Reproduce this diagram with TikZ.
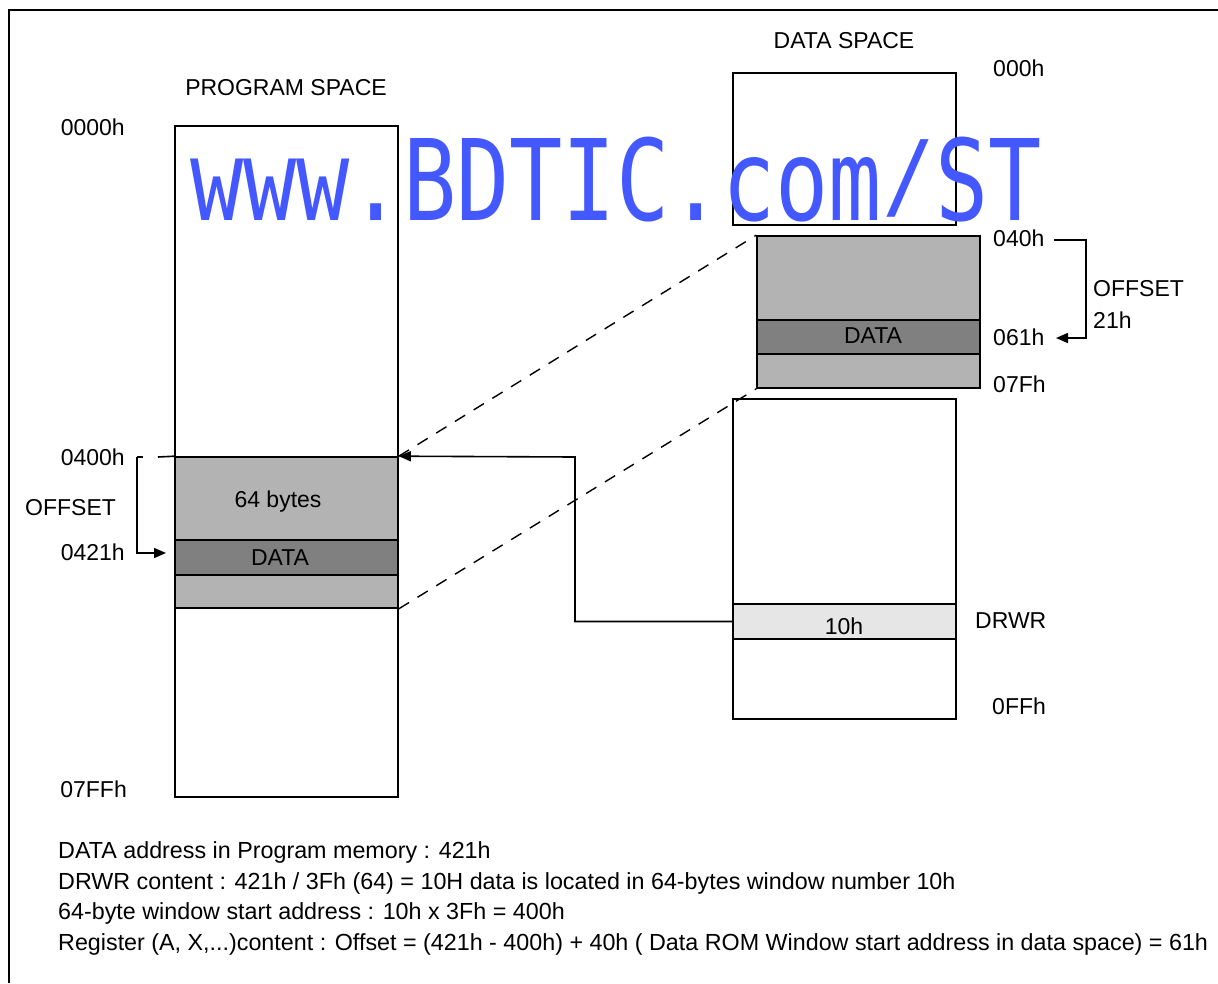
\documentclass[tikz,border=0pt]{standalone}
\usepackage{fontspec}
\setmainfont{Liberation Sans}
\newfontfamily\wmfamily{DejaVu Sans Mono}
\usetikzlibrary{arrows.meta}

\definecolor{winGray}{RGB}{179,179,179}
\definecolor{dataGray}{RGB}{128,128,128}
\definecolor{regGray}{RGB}{230,230,230}
\definecolor{wmBlue}{RGB}{68,88,255}
\newcommand{\lblfont}{\fontsize{23}{28}\selectfont}
\newcommand{\notefont}{\fontsize{23.3}{28}\selectfont}

\begin{document}
\begin{tikzpicture}[
            x=1pt, y=-1pt,
            every node/.style={font=\lblfont, inner sep=0pt},
            mem box/.style={rectangle, draw, line width=1.6pt, minimum width=223pt},
            win box/.style={mem box, fill=winGray},
            data box/.style={mem box, fill=dataGray, minimum height=35pt},
            reg box/.style={mem box, fill=regGray, minimum height=35pt},
            addr left/.style={anchor=east},
            addr right/.style={anchor=west},
            note/.style={anchor=west, font=\notefont},
            link/.style={line width=1.6pt},
            arrow/.style={link, -{Triangle[length=12pt, width=10pt]}},
            dash link/.style={line width=1.4pt, dash pattern=on 12pt off 10pt},
            watermark/.style={font=\wmfamily\fontsize{112.5}{112.5}\selectfont, text=wmBlue, anchor=base west}
    ]
        \useasboundingbox (0,0) rectangle (1218,983);

        % Frame
        \draw[line width=2pt] (9,983) -- (9,10) -- (1218,10);

        % Program space
        \node (prog_title) at (286,88) {PROGRAM SPACE};
        \node[mem box, minimum height=671pt] (prog) at (286.5,461.5) {};
        \node[win box, minimum height=151pt] (pwin) at (286.5,532.5) {};
        \node[data box] (pdata) at (286.5,557.5) {};
        \node (pdata_lbl) at (280,558) {DATA};
        \node[anchor=base] (pbytes) at (278,507) {64 bytes};

        \node[addr left] (a0000) at (125,127) {0000h};
        \node[addr left] (a0400) at (125,457) {0400h};
        \node[anchor=west] (poffset) at (25,508) {OFFSET};
        \node[addr left] (a0421) at (125,552) {0421h};
        \node[addr left] (a07ff) at (127,789) {07FFh};

        % Data space
        \node (data_title) at (844,41) {DATA SPACE};
        \node[mem box, minimum height=152pt] (dtop) at (844.5,149) {};
        \node[win box, minimum height=152pt] (dwin) at (868.5,312) {};
        \node[data box, minimum height=34pt] (ddata) at (868.5,337) {};
        \node (ddata_lbl) at (873,336) {DATA};
        \node[mem box, minimum height=320pt] (dlow) at (844.5,559) {};
        \node[reg box] (drwr) at (844.5,621.5) {};
        \node (drwr_val) at (844,626) {10h};

        \node[addr right] (a000) at (993,68) {000h};
        \node[addr right] (a040) at (993,238) {040h};
        \node[addr right] (a061) at (993,337) {061h};
        \node[addr right] (a07f) at (993,384) {07Fh};
        \node[addr right] (drwr_lbl) at (975,621) {DRWR};
        \node[addr right] (a0ff) at (992,706) {0FFh};
        \node[addr right] (doffset) at (1093,289) {OFFSET};
        \node[addr right] (doff_val) at (1093,320) {21h};

        % Offset brackets
        \coordinate (ptick) at (143,457);
        \coordinate (pbend) at (137,457);
        \coordinate (parr) at (166,553);
        \coordinate (pext) at (158,457);
        \draw[link] (ptick) -- (pbend);
        \draw[arrow] (pbend) |- (parr);
        \draw[link] (pext) -- (pwin.north west);

        \coordinate (dstart) at (1054,240);
        \coordinate (dbend) at (1086,240);
        \coordinate (darr) at (1056,338);
        \draw[arrow] (dstart) -- (dbend) |- (darr);

        % DRWR pointer
        \coordinate (rbend) at (575,457);
        \draw[arrow] (drwr.west) -| (rbend) -- (pwin.north east);

        % Window mapping
        \draw[dash link] (pwin.north east) -- (dwin.north west);
        \draw[dash link] (pwin.south east) -- (dwin.south west);

        % Notes
        \node[note] (note1) at (58,852) {DATA address in Program memory : 421h};
        \node[note] (note2) at (58,883) {DRWR content : 421h / 3Fh (64) = 10H data is located in 64-bytes window number 10h};
        \node[note] (note3) at (58,913) {64-byte window start address : 10h x 3Fh = 400h};
        \node[note] (note4) at (58,944) {Register (A, X,...)content : Offset = (421h - 400h) + 40h ( Data ROM Window start address in data space) = 61h};

        % Watermark
        \node[watermark] (wm) at (190,220) {\scalebox{0.786}[1]{www.BDTIC.com\raisebox{12pt}{\scalebox{1}[0.84]{/}}ST}};

    \end{tikzpicture}
\end{document}
